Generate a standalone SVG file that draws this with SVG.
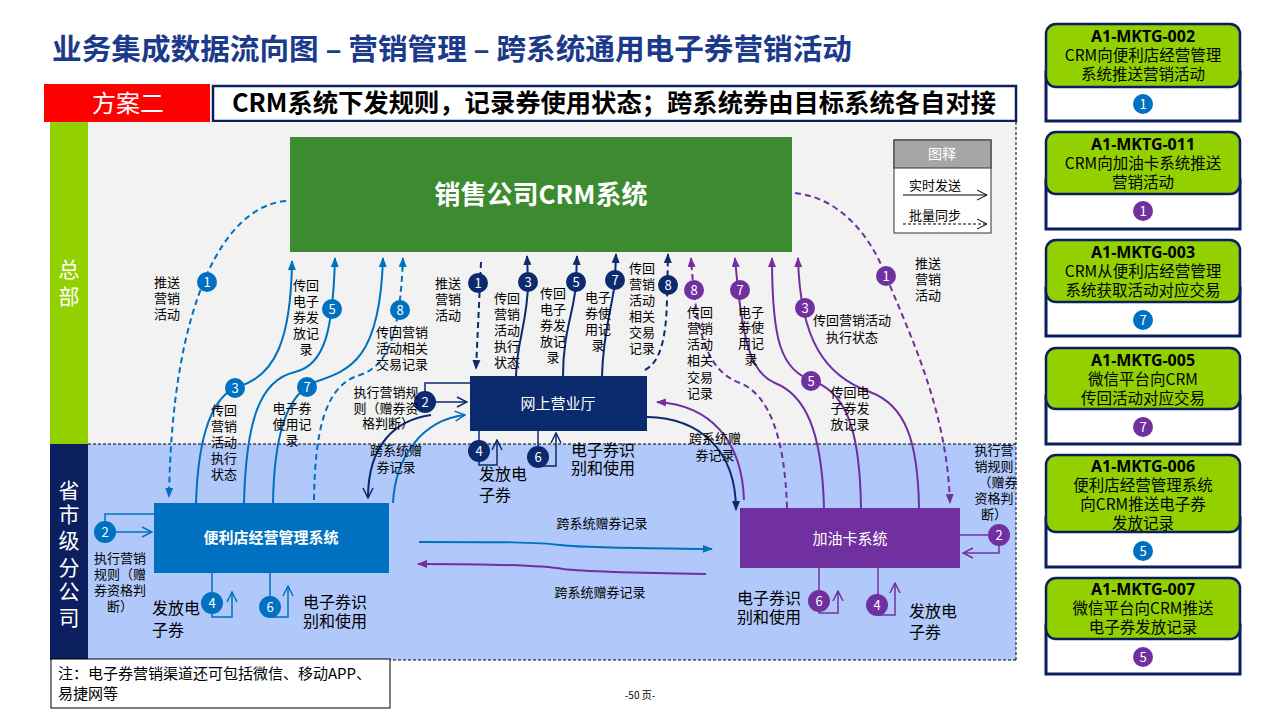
<svg xmlns="http://www.w3.org/2000/svg" width="1280" height="720" viewBox="0 0 1280 720">
<defs>
<style>
text{font-family:"Noto Sans CJK SC","Noto Sans",sans-serif;fill:#000}
.l13{font-size:13px;text-anchor:middle}
.l16{font-size:16px}
.w{fill:#fff}
.b{stroke:#0070C0}
.n{stroke:#0B2B6E}
.p{stroke:#7030A0}
.ln{fill:none;stroke-width:2}
.lp{fill:none;stroke-width:1.5}
.d{stroke-dasharray:6 4}
.cb{fill:#0070C0}
.cn{fill:#0B2B6E}
.cp{fill:#7030A0}
.num{font-size:13px;text-anchor:middle;fill:#fff}
.card{fill:#fff;stroke:#0B1F5E;stroke-width:3}
.hd{fill:#92D000;stroke:#0B1F5E;stroke-width:2.5}
.ct{font-size:15.5px;text-anchor:middle}
.ctb{font-size:16px;font-weight:bold;text-anchor:middle;font-family:"Noto Sans","Noto Sans CJK SC",sans-serif}
</style>
<marker id="aB" viewBox="0 0 10 10" refX="9" refY="5" markerWidth="10" markerHeight="10" markerUnits="userSpaceOnUse" orient="auto"><path d="M0,1 L10,5 L0,9 z" fill="#0070C0"/></marker>
<marker id="aN" viewBox="0 0 10 10" refX="9" refY="5" markerWidth="10" markerHeight="10" markerUnits="userSpaceOnUse" orient="auto"><path d="M0,1 L10,5 L0,9 z" fill="#0B2B6E"/></marker>
<marker id="aP" viewBox="0 0 10 10" refX="9" refY="5" markerWidth="10" markerHeight="10" markerUnits="userSpaceOnUse" orient="auto"><path d="M0,1 L10,5 L0,9 z" fill="#7030A0"/></marker>
<marker id="oB" viewBox="0 0 12 12" refX="11" refY="6" markerWidth="12" markerHeight="12" markerUnits="userSpaceOnUse" orient="auto"><path d="M1,1 L11,6 L1,11" fill="none" stroke="#0070C0" stroke-width="1.5"/></marker>
<marker id="oN" viewBox="0 0 12 12" refX="11" refY="6" markerWidth="12" markerHeight="12" markerUnits="userSpaceOnUse" orient="auto"><path d="M1,1 L11,6 L1,11" fill="none" stroke="#0B2B6E" stroke-width="1.5"/></marker>
<marker id="oP" viewBox="0 0 12 12" refX="11" refY="6" markerWidth="12" markerHeight="12" markerUnits="userSpaceOnUse" orient="auto"><path d="M1,1 L11,6 L1,11" fill="none" stroke="#7030A0" stroke-width="1.5"/></marker>
<marker id="oK" viewBox="0 0 12 12" refX="11" refY="6" markerWidth="12" markerHeight="12" markerUnits="userSpaceOnUse" orient="auto"><path d="M1,1 L11,6 L1,11" fill="none" stroke="#000" stroke-width="1"/></marker>
</defs>
<rect x="0" y="0" width="1280" height="720" fill="#fff"/>

<g id="header">
<text x="52" y="60" textLength="800" lengthAdjust="spacingAndGlyphs" style="font-size:29px;font-weight:bold;fill:#1B3A8B">业务集成数据流向图 – 营销管理 – 跨系统通用电子券营销活动</text>
<rect x="44" y="84" width="166" height="38" fill="#FF0000"/>
<text x="128" y="112" class="w" style="font-size:24px;text-anchor:middle">方案二</text>
<rect x="213" y="86" width="803" height="35" fill="#fff" stroke="#0B1F5E" stroke-width="2.5"/>
<text x="614" y="112" textLength="764" lengthAdjust="spacingAndGlyphs" style="font-size:25px;font-weight:bold;text-anchor:middle">CRM系统下发规则，记录券使用状态；跨系统券由目标系统各自对接</text>
</g>

<g id="zones">
<rect x="88" y="122" width="928" height="322" fill="#F2F2F2"/>
<rect x="88" y="444" width="928" height="216" fill="#B0C9FA"/>
<path d="M88,444 H1016 M1016,122 V660 M88,660 H1016" fill="none" stroke="#000" stroke-width="1" stroke-dasharray="3 2"/>
<rect x="50" y="122" width="38" height="322" fill="#92D000"/>
<rect x="50" y="444" width="38" height="216" fill="#0B1F5E"/>
<text x="69" style="font-size:21px;text-anchor:middle" class="w"><tspan x="69" y="277">总</tspan><tspan x="69" y="304">部</tspan></text>
<text style="font-size:21px;text-anchor:middle" class="w"><tspan x="69" y="498">省</tspan><tspan x="69" y="522">市</tspan><tspan x="69" y="548">级</tspan><tspan x="69" y="575">分</tspan><tspan x="69" y="599">公</tspan><tspan x="69" y="625">司</tspan></text>
</g>

<g id="legend">
<rect x="894" y="140" width="97" height="93" fill="#fff" stroke="#333" stroke-width="1"/>
<rect x="894" y="140" width="97" height="28" fill="#A6A6A6" stroke="#333" stroke-width="1"/>
<text x="942" y="159" class="w" style="font-size:14px;text-anchor:middle">图释</text>
<text x="935" y="190" style="font-size:13px;text-anchor:middle">实时发送</text>
<path d="M903,195 H987" stroke="#000" stroke-width="1" fill="none" marker-end="url(#oK)"/>
<text x="935" y="220" style="font-size:13px;text-anchor:middle">批量同步</text>
<path d="M903,224 H987" stroke="#000" stroke-width="1" stroke-dasharray="3 2" fill="none" marker-end="url(#oK)"/>
</g>

<g id="connectors">
<!-- blue: CRM <-> 便利店 -->
<path class="ln b d" d="M286,201 C225,206 172,300 169,497" marker-end="url(#aB)"/>
<path class="ln b" d="M196,503 C198,440 210,395 240,386 C275,375 291,340 292,261" marker-end="url(#aB)"/>
<path class="ln b" d="M244,503 C246,420 260,380 295,372 C325,365 333,330 335,258" marker-end="url(#aB)"/>
<path class="ln b" d="M273,503 C274,440 285,395 315,382 C350,370 380,360 383,258" marker-end="url(#aB)"/>
<path class="ln b d" d="M314,500 C315,430 325,385 360,375 C390,365 400,330 403,258" marker-end="url(#aB)"/>
<path class="lp b" d="M154,514 H105 V532 H152" marker-end="url(#oB)"/>
<path class="lp b" d="M212,573 V617 H232 V592" marker-end="url(#oB)"/>
<path class="lp b" d="M270,573 V617 H288 V586" marker-end="url(#oB)"/>
<!-- navy: CRM <-> 网上营业厅 -->
<path class="ln n d" d="M481,262 L476,369" marker-end="url(#aN)"/>
<path class="ln n" d="M516,376 C517,340 528,320 528,282 L527,256" marker-end="url(#aN)"/>
<path class="ln n" d="M563,376 C563,330 575,310 576,282 L577,256" marker-end="url(#aN)"/>
<path class="ln n" d="M602,376 C603,330 614,300 615,280 L616,254" marker-end="url(#aN)"/>
<path class="ln n d" d="M645,370 C660,362 666,340 667,300 L668,254" marker-end="url(#aN)"/>
<path class="lp n" d="M470,383 H425 V402 H467" marker-end="url(#oN)"/>
<path class="lp n" d="M479,431 V465 H497 V440" marker-end="url(#oN)"/>
<path class="lp n" d="M538,431 V466 H556 V433" marker-end="url(#oN)"/>
<!-- cross-system arcs -->
<path class="ln n" d="M431,415 C395,420 368,445 368,498" marker-end="url(#oN)"/>
<path class="ln b" d="M393,503 C395,460 420,420 465,415" marker-end="url(#oB)"/>
<path class="ln n" d="M647,417 C700,418 736,450 736,510" marker-end="url(#aN)"/>
<path class="ln p" d="M744,500 C742,440 710,405 657,402" marker-end="url(#aP)"/>
<path class="ln b" d="M419,542 C500,542 540,542 560,545 C580,548 640,548 712,549" marker-end="url(#aB)"/>
<path class="ln p" d="M706,574 C640,573 590,572 563,569 C540,565 480,564 418,564" marker-end="url(#aP)"/>
<!-- purple: CRM <-> 加油卡 -->
<path class="ln p d" d="M795,193 C840,198 870,235 886,276 C910,335 947,410 950,503" marker-end="url(#aP)"/>
<path class="ln p" d="M919,508 C918,440 905,405 870,392 C825,376 800,340 798,258" marker-end="url(#aP)"/>
<path class="ln p" d="M861,508 C860,440 850,395 815,382 C780,370 772,340 772,258" marker-end="url(#aP)"/>
<path class="ln p" d="M824,508 C822,430 805,395 775,383 C750,373 742,340 735,258" marker-end="url(#aP)"/>
<path class="ln p d" d="M787,508 C785,440 770,395 740,383 C705,370 696,330 691,258" marker-end="url(#aP)"/>
<path class="lp p" d="M960,535 H999 V553 H963" marker-end="url(#oP)"/>
<path class="lp p" d="M878,568 V615 H895 V583" marker-end="url(#oP)"/>
<path class="lp p" d="M819,568 V613 H838 V591" marker-end="url(#oP)"/>
</g>

<g id="crm">
<rect x="290" y="137" width="502" height="115" fill="#3C8B30"/>
<text x="541" y="204" class="w" style="font-size:26px;font-weight:bold;text-anchor:middle">销售公司CRM系统</text>
</g>
<g id="wsyyt">
<rect x="470" y="376" width="177" height="55" fill="#0B2B6E"/>
<text x="558" y="409" class="w" style="font-size:15px;text-anchor:middle">网上营业厅</text>
</g>
<g id="bld">
<rect x="154" y="503" width="235" height="70" fill="#0070C0"/>
<text x="271" y="543" class="w" style="font-size:15px;font-weight:bold;text-anchor:middle">便利店经营管理系统</text>
</g>
<g id="jyk">
<rect x="740" y="508" width="220" height="60" fill="#7030A0"/>
<text x="850" y="544" class="w" style="font-size:15px;text-anchor:middle">加油卡系统</text>
</g>

<g id="badges">
<circle cx="207" cy="282" r="10" class="cb"/><text x="207" y="287" class="num">1</text>
<circle cx="235" cy="388" r="10" class="cb"/><text x="235" y="393" class="num">3</text>
<circle cx="332" cy="309" r="10" class="cb"/><text x="332" y="314" class="num">5</text>
<circle cx="307" cy="387" r="10" class="cb"/><text x="307" y="392" class="num">7</text>
<circle cx="400" cy="310" r="10" class="cb"/><text x="400" y="315" class="num">8</text>
<circle cx="105" cy="532" r="11" class="cb"/><text x="105" y="537" class="num">2</text>
<circle cx="212" cy="603" r="11" class="cb"/><text x="212" y="608" class="num">4</text>
<circle cx="270" cy="607" r="11" class="cb"/><text x="270" y="612" class="num">6</text>

<circle cx="478" cy="283" r="10" class="cn"/><text x="478" y="288" class="num">1</text>
<circle cx="528" cy="282" r="10" class="cn"/><text x="528" y="287" class="num">3</text>
<circle cx="576" cy="282" r="10" class="cn"/><text x="576" y="287" class="num">5</text>
<circle cx="615" cy="280" r="10" class="cn"/><text x="615" y="285" class="num">7</text>
<circle cx="668" cy="285" r="10" class="cn"/><text x="668" y="290" class="num">8</text>
<circle cx="425" cy="402" r="11" class="cn"/><text x="425" y="407" class="num">2</text>
<circle cx="479" cy="451" r="11" class="cn"/><text x="479" y="456" class="num">4</text>
<circle cx="538" cy="457" r="11" class="cn"/><text x="538" y="462" class="num">6</text>

<circle cx="886" cy="276" r="10" class="cp"/><text x="886" y="281" class="num">1</text>
<circle cx="805" cy="308" r="10" class="cp"/><text x="805" y="313" class="num">3</text>
<circle cx="811" cy="381" r="10" class="cp"/><text x="811" y="386" class="num">5</text>
<circle cx="740" cy="290" r="10" class="cp"/><text x="740" y="295" class="num">7</text>
<circle cx="694" cy="290" r="10" class="cp"/><text x="694" y="295" class="num">8</text>
<circle cx="999" cy="535" r="11" class="cp"/><text x="999" y="540" class="num">2</text>
<circle cx="877" cy="605" r="11" class="cp"/><text x="877" y="610" class="num">4</text>
<circle cx="819" cy="601" r="11" class="cp"/><text x="819" y="606" class="num">6</text>
</g>

<g id="labels">
<text class="l13"><tspan x="167" y="287">推送</tspan><tspan x="167" y="303">营销</tspan><tspan x="167" y="319">活动</tspan></text>
<text class="l13"><tspan x="224" y="415">传回</tspan><tspan x="224" y="431">营销</tspan><tspan x="224" y="447">活动</tspan><tspan x="224" y="463">执行</tspan><tspan x="224" y="479">状态</tspan></text>
<text class="l13"><tspan x="306" y="290">传回</tspan><tspan x="306" y="306">电子</tspan><tspan x="306" y="322">券发</tspan><tspan x="306" y="338">放记</tspan><tspan x="306" y="354">录</tspan></text>
<text class="l13"><tspan x="292" y="413">电子券</tspan><tspan x="292" y="429">使用记</tspan><tspan x="292" y="445">录</tspan></text>
<text class="l13"><tspan x="402" y="337">传回营销</tspan><tspan x="402" y="353">活动相关</tspan><tspan x="402" y="369">交易记录</tspan></text>
<text class="l13"><tspan x="120" y="563">执行营销</tspan><tspan x="120" y="579">规则（赠</tspan><tspan x="120" y="595">券资格判</tspan><tspan x="120" y="611">断）</tspan></text>
<text class="l16"><tspan x="152" y="614">发放电</tspan><tspan x="152" y="636">子券</tspan></text>
<text class="l16"><tspan x="303" y="608">电子券识</tspan><tspan x="303" y="627">别和使用</tspan></text>

<text class="l13"><tspan x="448" y="288">推送</tspan><tspan x="448" y="304">营销</tspan><tspan x="448" y="320">活动</tspan></text>
<text class="l13"><tspan x="507" y="303">传回</tspan><tspan x="507" y="319">营销</tspan><tspan x="507" y="335">活动</tspan><tspan x="507" y="351">执行</tspan><tspan x="507" y="367">状态</tspan></text>
<text class="l13"><tspan x="553" y="298">传回</tspan><tspan x="553" y="314">电子</tspan><tspan x="553" y="330">券发</tspan><tspan x="553" y="346">放记</tspan><tspan x="553" y="362">录</tspan></text>
<text class="l13"><tspan x="598" y="302">电子</tspan><tspan x="598" y="318">券使</tspan><tspan x="598" y="334">用记</tspan><tspan x="598" y="350">录</tspan></text>
<text class="l13"><tspan x="642" y="273">传回</tspan><tspan x="642" y="289">营销</tspan><tspan x="642" y="305">活动</tspan><tspan x="642" y="321">相关</tspan><tspan x="642" y="337">交易</tspan><tspan x="642" y="353">记录</tspan></text>
<text class="l13"><tspan x="386" y="397">执行营销规</tspan><tspan x="386" y="413">则（赠券资</tspan><tspan x="388" y="428">格判断）</tspan></text>
<text class="l16"><tspan x="479" y="480">发放电</tspan><tspan x="479" y="501">子券</tspan></text>
<text class="l16"><tspan x="571" y="456">电子券识</tspan><tspan x="571" y="474">别和使用</tspan></text>

<text class="l13"><tspan x="396" y="455">跨系统赠</tspan><tspan x="396" y="472">券记录</tspan></text>
<text class="l13"><tspan x="715" y="443">跨系统赠</tspan><tspan x="715" y="460">券记录</tspan></text>
<text class="l13" x="602" y="528">跨系统赠券记录</text>
<text class="l13" x="600" y="597">跨系统赠券记录</text>

<text class="l13"><tspan x="928" y="268">推送</tspan><tspan x="928" y="284">营销</tspan><tspan x="928" y="300">活动</tspan></text>
<text class="l13"><tspan x="852" y="325">传回营销活动</tspan><tspan x="852" y="342">执行状态</tspan></text>
<text class="l13"><tspan x="850" y="397">传回电</tspan><tspan x="850" y="413">子券发</tspan><tspan x="850" y="429">放记录</tspan></text>
<text class="l13"><tspan x="751" y="317">电子</tspan><tspan x="751" y="332">券使</tspan><tspan x="751" y="348">用记</tspan><tspan x="751" y="364">录</tspan></text>
<text class="l13"><tspan x="700" y="317">传回</tspan><tspan x="700" y="333">营销</tspan><tspan x="700" y="349">活动</tspan><tspan x="700" y="365">相关</tspan><tspan x="700" y="382">交易</tspan><tspan x="700" y="398">记录</tspan></text>
<text class="l13"><tspan x="994" y="455">执行营</tspan><tspan x="994" y="471">销规则</tspan><tspan x="998" y="487">（赠券</tspan><tspan x="994" y="503">资格判</tspan><tspan x="994" y="519">断）</tspan></text>
<text class="l16"><tspan x="909" y="617">发放电</tspan><tspan x="909" y="638">子券</tspan></text>
<text class="l16"><tspan x="737" y="604">电子券识</tspan><tspan x="737" y="623">别和使用</tspan></text>
</g>

<g id="note">
<rect x="51" y="659" width="339" height="49" fill="#fff" stroke="#000" stroke-width="1"/>
<text style="font-size:15px"><tspan x="58" y="679">注：电子券营销渠道还可包括微信、移动APP、</tspan><tspan x="58" y="699">易捷网等</tspan></text>
<text x="640" y="699" style="font-size:10px;text-anchor:middle">-50 页-</text>
</g>

<g id="card1">
<rect x="1046" y="72" width="194" height="49" class="card"/>
<rect x="1046" y="24" width="194" height="63" rx="10" class="hd"/>
<text x="1143" y="42" class="ctb">A1-MKTG-002</text>
<text x="1143" y="61" class="ct">CRM向便利店经营管理</text>
<text x="1143" y="80" class="ct">系统推送营销活动</text>
<circle cx="1143" cy="104" r="10" class="cb"/><text x="1143" y="109" class="num">1</text>
</g>
<g id="card2">
<rect x="1046" y="180" width="194" height="49" class="card"/>
<rect x="1046" y="132" width="194" height="62" rx="10" class="hd"/>
<text x="1143" y="150" class="ctb">A1-MKTG-011</text>
<text x="1143" y="169" class="ct">CRM向加油卡系统推送</text>
<text x="1143" y="188" class="ct">营销活动</text>
<circle cx="1143" cy="211" r="10" class="cp"/><text x="1143" y="216" class="num">1</text>
</g>
<g id="card3">
<rect x="1046" y="288" width="194" height="48" class="card"/>
<rect x="1046" y="240" width="194" height="62" rx="10" class="hd"/>
<text x="1143" y="258" class="ctb">A1-MKTG-003</text>
<text x="1143" y="277" class="ct">CRM从便利店经营管理</text>
<text x="1143" y="296" class="ct">系统获取活动对应交易</text>
<circle cx="1143" cy="320" r="10" class="cb"/><text x="1143" y="325" class="num">7</text>
</g>
<g id="card4">
<rect x="1046" y="396" width="194" height="48" class="card"/>
<rect x="1046" y="348" width="194" height="61" rx="10" class="hd"/>
<text x="1143" y="366" class="ctb">A1-MKTG-005</text>
<text x="1143" y="385" class="ct">微信平台向CRM</text>
<text x="1143" y="404" class="ct">传回活动对应交易</text>
<circle cx="1143" cy="427" r="10" class="cp"/><text x="1143" y="432" class="num">7</text>
</g>
<g id="card5">
<rect x="1046" y="518" width="194" height="49" class="card"/>
<rect x="1046" y="455" width="194" height="77" rx="10" class="hd"/>
<text x="1143" y="472" class="ctb">A1-MKTG-006</text>
<text x="1143" y="491" class="ct">便利店经营管理系统</text>
<text x="1143" y="510" class="ct">向CRM推送电子券</text>
<text x="1143" y="529" class="ct">发放记录</text>
<circle cx="1143" cy="551" r="10" class="cb"/><text x="1143" y="556" class="num">5</text>
</g>
<g id="card6">
<rect x="1046" y="625" width="194" height="49" class="card"/>
<rect x="1046" y="578" width="194" height="61" rx="10" class="hd"/>
<text x="1143" y="595" class="ctb">A1-MKTG-007</text>
<text x="1143" y="614" class="ct">微信平台向CRM推送</text>
<text x="1143" y="633" class="ct">电子券发放记录</text>
<circle cx="1143" cy="657" r="10" class="cp"/><text x="1143" y="662" class="num">5</text>
</g>
</svg>
